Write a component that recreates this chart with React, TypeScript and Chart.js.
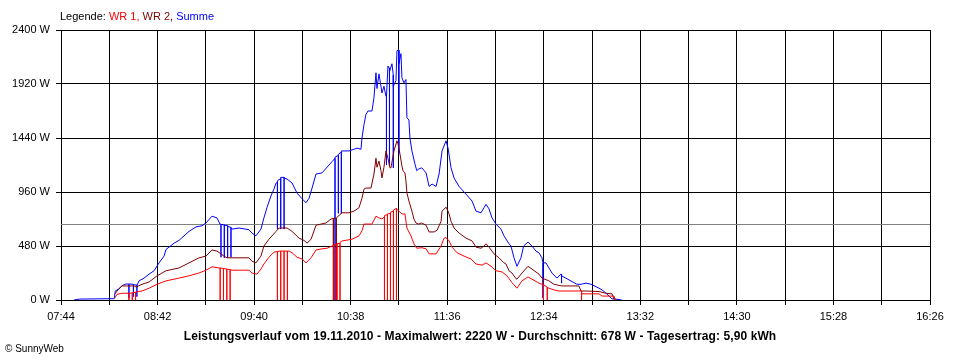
import React, { useEffect, useRef } from "react";
import { Chart, registerables } from "chart.js";

Chart.register(...registerables);

// Time axis (minutes since midnight)
const xMin = 464; // 07:44
const xMax = 986; // 16:26
const xTickMinutes = [464, 493, 522, 551, 580, 609, 638, 667, 696, 725, 754, 783, 812, 841, 870, 899, 928, 957, 986];
const yTickWatts = [0, 480, 960, 1440, 1920, 2400];
const averageW = 678;

const legendLabels = ["WR 1", "WR 2", "Summe"];
const titleText = "Leistungsverlauf vom 19.11.2010 - Maximalwert: 2220 W - Durchschnitt: 678 W - Tagesertrag: 5,90 kWh";
const footerText = "\u00A9 SunnyWeb";

// WR 1 (red) — repeated times are the short drop-outs
const wr1Times = [496.4, 497.6, 500.6, 504.8, 504.8, 504.8, 506.8, 506.8, 506.8, 508.8, 508.8, 508.8, 510.2, 512.7, 516.9, 521.7, 527.1, 534.9, 540.9, 546.9, 551.1, 554.7, 558.9, 559.6, 559.6, 559.6, 561.6, 561.6, 561.6, 563.6, 563.6, 563.6, 565.6, 565.6, 565.6, 566.7, 576.9, 578.7, 581.7, 584.1, 585.9, 588.9, 591.9, 593.2, 594.0, 594.0, 594.0, 596.0, 596.0, 596.0, 598.0, 598.0, 598.0, 600.0, 600.0, 600.0, 601.0, 602.8, 605.8, 608.8, 611.2, 614.2, 617.2, 620.8, 623.8, 626.8, 628.0, 628.0, 628.0, 629.8, 629.8, 629.8, 631.6, 631.6, 631.6, 632.8, 638.8, 643.0, 644.8, 646.0, 650.8, 653.2, 655.0, 656.8, 658.3, 658.3, 658.3, 660.1, 660.1, 660.1, 661.9, 661.9, 661.9, 663.7, 663.7, 663.7, 665.5, 665.5, 665.5, 667.0, 668.8, 670.6, 671.8, 674.2, 676.0, 677.7, 680.7, 683.3, 685.1, 689.3, 692.3, 694.1, 695.3, 697.1, 698.9, 701.9, 706.1, 710.3, 713.3, 716.9, 719.3, 722.3, 725.3, 728.9, 731.9, 734.9, 736.1, 737.9, 740.9, 744.5, 746.9, 751.1, 752.9, 753.8, 753.8, 753.8, 756.1, 756.1, 756.1, 757.1, 760.1, 763.1, 775.1, 776.7, 776.7, 776.7, 787.2, 789.0, 796.2, 797.0];
const wr1Watts = [20, 50, 60, 60, 0, 60, 62, 0, 65, 68, 0, 72, 75, 80, 105, 140, 170, 195, 215, 240, 265, 295, 285, 285, 0, 285, 280, 0, 280, 275, 0, 275, 270, 0, 268, 265, 265, 240, 230, 275, 320, 380, 425, 430, 430, 0, 432, 435, 0, 435, 435, 0, 435, 435, 0, 435, 435, 420, 380, 365, 330, 375, 445, 455, 460, 480, 485, 0, 490, 495, 0, 500, 505, 0, 510, 525, 540, 570, 615, 675, 675, 745, 730, 720, 740, 0, 750, 760, 0, 765, 770, 0, 780, 790, 0, 800, 815, 0, 810, 790, 765, 765, 640, 570, 500, 460, 465, 455, 410, 410, 480, 550, 555, 525, 470, 420, 390, 365, 320, 310, 330, 300, 260, 250, 215, 155, 135, 105, 170, 205, 185, 150, 140, 140, 0, 135, 115, 0, 110, 105, 90, 80, 80, 80, 0, 55, 55, 35, 35, 0];

// WR 2 (dark red)
const wr2Times = [496.4, 498.8, 500.6, 507.9, 509.1, 512.7, 516.9, 521.7, 527.1, 534.9, 540.9, 546.9, 551.1, 554.7, 557.7, 561.9, 563.7, 566.7, 576.9, 578.7, 581.1, 584.1, 585.9, 588.9, 593.2, 595.0, 599.8, 602.8, 607.0, 610.0, 611.8, 614.2, 617.2, 620.2, 623.2, 626.2, 627.6, 627.6, 627.6, 629.4, 629.4, 629.4, 632.8, 637.0, 640.0, 643.0, 644.8, 646.0, 647.2, 650.2, 652.0, 653.2, 653.8, 655.0, 656.2, 656.8, 658.0, 659.2, 660.4, 661.6, 662.2, 664.0, 665.8, 666.4, 667.6, 668.8, 669.4, 670.6, 671.2, 671.8, 673.0, 674.8, 676.0, 677.2, 678.9, 680.7, 683.3, 685.1, 688.1, 689.9, 692.3, 692.9, 695.3, 696.5, 697.1, 698.3, 700.1, 703.1, 707.3, 710.9, 713.3, 716.3, 718.1, 719.3, 721.1, 724.1, 727.1, 730.1, 731.3, 733.1, 734.9, 737.3, 737.9, 740.9, 744.5, 746.9, 751.1, 752.9, 753.8, 753.8, 753.8, 757.1, 760.1, 763.1, 764.9, 775.1, 776.4, 779.4, 787.2, 791.4, 795.0, 796.2, 797.4];
const wr2Watts = [55, 100, 125, 125, 115, 140, 160, 215, 260, 285, 330, 375, 390, 445, 435, 390, 375, 375, 375, 345, 330, 390, 480, 540, 610, 640, 640, 610, 550, 530, 505, 540, 665, 675, 685, 720, 725, 0, 725, 728, 0, 730, 775, 775, 790, 820, 905, 985, 995, 995, 1120, 1260, 1180, 1235, 1150, 1085, 1180, 1325, 1260, 1175, 1175, 1325, 1415, 1390, 1300, 1190, 1150, 1130, 1060, 950, 880, 790, 720, 685, 675, 685, 665, 605, 605, 620, 700, 790, 825, 790, 765, 700, 640, 595, 550, 525, 470, 460, 480, 500, 470, 410, 375, 330, 320, 260, 240, 190, 185, 240, 300, 275, 230, 195, 195, 10, 190, 170, 140, 130, 125, 125, 80, 80, 75, 60, 55, 5, 0];

// Summe (blue)
const sumTimes = [471.8, 475.0, 496.0, 496.6, 498.8, 501.0, 503.0, 504.8, 504.8, 504.8, 507.5, 507.5, 507.5, 509.6, 509.6, 509.6, 510.9, 513.9, 516.9, 519.9, 522.9, 525.9, 527.1, 528.9, 531.9, 534.9, 537.9, 540.9, 545.1, 548.7, 551.1, 554.7, 557.7, 559.5, 560.1, 560.1, 560.1, 562.1, 562.1, 562.1, 564.1, 564.1, 564.1, 566.1, 566.1, 566.1, 566.7, 570.9, 576.9, 578.7, 581.1, 584.1, 585.9, 587.7, 590.1, 591.9, 593.2, 594.0, 594.0, 594.0, 596.0, 596.0, 596.0, 598.0, 598.0, 598.0, 599.8, 602.8, 605.8, 608.8, 611.2, 613.0, 614.8, 617.2, 620.8, 625.0, 626.8, 628.6, 628.6, 628.6, 630.6, 630.6, 630.6, 632.4, 632.4, 632.4, 637.0, 640.0, 641.8, 644.2, 644.8, 646.0, 647.2, 648.4, 650.8, 652.0, 653.2, 653.8, 655.0, 656.2, 656.8, 658.0, 659.2, 659.5, 659.5, 659.5, 660.4, 661.3, 661.3, 661.3, 662.8, 663.6, 663.6, 663.6, 665.2, 665.8, 666.4, 667.0, 667.0, 667.0, 668.2, 668.8, 670.0, 671.2, 671.8, 673.0, 673.6, 674.8, 676.6, 677.7, 678.9, 680.7, 683.3, 685.1, 686.9, 689.3, 691.1, 692.9, 695.3, 696.5, 698.3, 700.1, 703.1, 707.3, 710.9, 713.3, 716.3, 718.1, 719.3, 721.1, 722.9, 725.3, 728.3, 730.1, 733.1, 734.3, 736.1, 737.9, 740.3, 741.9, 744.5, 746.9, 749.3, 751.1, 752.9, 753.5, 753.5, 753.5, 755.3, 757.1, 758.9, 761.9, 764.3, 764.6, 764.6, 764.6, 764.9, 773.9, 776.4, 779.4, 782.4, 787.2, 789.0, 791.4, 795.0, 796.2, 800.9, 801.5];
const sumWatts = [0, 8, 12, 80, 100, 130, 142, 142, 20, 142, 140, 30, 136, 132, 30, 130, 170, 195, 230, 260, 330, 390, 450, 470, 505, 530, 570, 610, 650, 660, 685, 745, 730, 675, 675, 380, 672, 668, 375, 665, 660, 375, 655, 645, 380, 635, 630, 640, 625, 595, 570, 630, 730, 820, 925, 985, 1040, 1045, 630, 1060, 1080, 630, 1090, 1090, 630, 1085, 1075, 1040, 950, 900, 865, 905, 995, 1120, 1130, 1200, 1230, 1260, 0, 1270, 1285, 770, 1295, 1315, 770, 1325, 1325, 1340, 1350, 1340, 1440, 1560, 1650, 1680, 1680, 1800, 2020, 1880, 2010, 1900, 1840, 1900, 1810, 1810, 1200, 1810, 2080, 2060, 1200, 2030, 2100, 2000, 1175, 1900, 1950, 2215, 2220, 2220, 1300, 2100, 2190, 1975, 1930, 1960, 1620, 1600, 1440, 1325, 1210, 1150, 1165, 1175, 1130, 1010, 1030, 1010, 1120, 1325, 1415, 1350, 1175, 1085, 1010, 940, 880, 790, 775, 820, 850, 810, 730, 675, 630, 570, 500, 480, 375, 300, 375, 480, 515, 480, 435, 420, 375, 330, 20, 330, 330, 285, 240, 195, 230, 230, 150, 215, 215, 140, 140, 150, 140, 105, 90, 60, 10, 10, 0];

const COLOR_WR1 = "#ff0000";
const COLOR_WR2 = "#800000";
const COLOR_SUM = "#0000ff";
const FONT = "'Liberation Sans', Arial, sans-serif";

function fmtTime(m: number): string {
  const h = Math.floor(m / 60);
  const mm = Math.round(m - h * 60);
  return String(h).padStart(2, "0") + ":" + String(mm).padStart(2, "0");
}

function toPoints(ts: number[], ws: number[]) {
  return ts.map((t, i) => ({ x: t, y: ws[i] }));
}

const textPlugin = {
  id: "sunnyText",
  beforeDatasetsDraw(chart: any) {
    const { ctx, chartArea } = chart;
    const y = Math.round(chart.scales.y.getPixelForValue(averageW)) + 0.5;
    ctx.save();
    ctx.strokeStyle = "#808080";
    ctx.lineWidth = 1;
    ctx.beginPath();
    ctx.moveTo(chartArea.left, y);
    ctx.lineTo(chartArea.right, y);
    ctx.stroke();
    ctx.restore();
  },
  afterDraw(chart: any) {
    const { ctx } = chart;
    ctx.save();
    ctx.textBaseline = "middle";
    ctx.font = `11px ${FONT}`;
    let x = 60;
    const ly = 17;
    const parts: [string, string][] = [
      ["Legende: ", "#000000"],
      [legendLabels[0] + ", ", COLOR_WR1],
      [legendLabels[1] + ", ", COLOR_WR2],
      [legendLabels[2], COLOR_SUM],
    ];
    ctx.textAlign = "left";
    for (const [s, c] of parts) {
      ctx.fillStyle = c;
      ctx.fillText(s, x, ly);
      x += ctx.measureText(s).width;
    }
    ctx.fillStyle = "#000000";
    ctx.font = `bold 12px ${FONT}`;
    try {
      (ctx as any).letterSpacing = "0.1px";
    } catch (e) {}
    ctx.textAlign = "center";
    ctx.fillText(titleText, 480, 337);
    try {
      (ctx as any).letterSpacing = "0px";
    } catch (e) {}
    ctx.font = `10px ${FONT}`;
    ctx.textAlign = "left";
    ctx.fillText(footerText, 5, 349);
    ctx.restore();
  },
};

export default function App() {
  const ref = useRef<HTMLCanvasElement | null>(null);
  useEffect(() => {
    if (!ref.current) return;
    const chart = new Chart(ref.current, {
      type: "line",
      data: {
        datasets: [
          { label: "WR 1", data: toPoints(wr1Times, wr1Watts), borderColor: COLOR_WR1, backgroundColor: COLOR_WR1, borderWidth: 1, pointRadius: 0, tension: 0, fill: false },
          { label: "WR 2", data: toPoints(wr2Times, wr2Watts), borderColor: COLOR_WR2, backgroundColor: COLOR_WR2, borderWidth: 1, pointRadius: 0, tension: 0, fill: false },
          { label: "Summe", data: toPoints(sumTimes, sumWatts), borderColor: COLOR_SUM, backgroundColor: COLOR_SUM, borderWidth: 1, pointRadius: 0, tension: 0, fill: false },
        ],
      },
      options: {
        responsive: false,
        maintainAspectRatio: false,
        animation: false,
        events: [],
        layout: { padding: { left: 0, top: 30, right: 30, bottom: 0 } },
        plugins: { legend: { display: false }, tooltip: { enabled: false }, title: { display: false } },
        scales: {
          x: {
            type: "linear",
            min: xMin,
            max: xMax,
            afterBuildTicks: (s: any) => {
              s.ticks = xTickMinutes.map((v) => ({ value: v }));
            },
            afterFit: (s: any) => {
              s.height = 60;
            },
            grid: { color: "#000000", lineWidth: 1, tickLength: 5, drawTicks: true },
            border: { color: "#000000", width: 1 },
            ticks: {
              autoSkip: false,
              maxRotation: 0,
              minRotation: 0,
              color: "#000000",
              padding: 5,
              font: { family: FONT, size: 11 },
              callback: (v: any) => ((Number(v) - xMin) % 58 === 0 ? fmtTime(Number(v)) : ""),
            },
          },
          y: {
            min: 0,
            max: 2400,
            afterBuildTicks: (s: any) => {
              s.ticks = yTickWatts.map((v) => ({ value: v }));
            },
            afterFit: (s: any) => {
              s.width = 61;
            },
            grid: { color: "#000000", lineWidth: 1, tickLength: 5, drawTicks: true },
            border: { color: "#000000", width: 1 },
            ticks: {
              color: "#000000",
              padding: 6,
              font: { family: FONT, size: 11 },
              callback: (v: any) => `${v} W`,
            },
          },
        },
      },
      plugins: [textPlugin],
    });
    return () => chart.destroy();
  }, []);
  return (
    <div style={{ position: "absolute", left: 0, top: 0, width: 960, height: 360, background: "#ffffff" }}>
      <canvas ref={ref} width={960} height={360} style={{ display: "block", width: 960, height: 360 }} />
    </div>
  );
}
